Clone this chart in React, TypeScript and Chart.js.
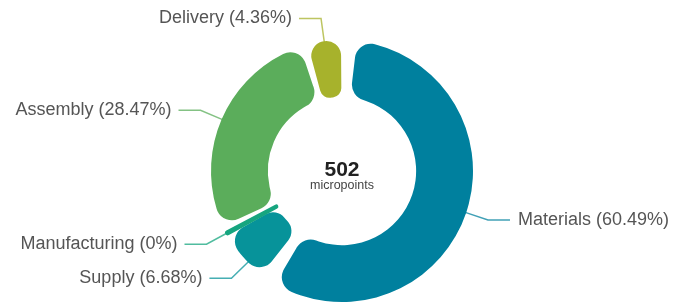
import React, { useEffect, useRef } from "react";
import { Chart, registerables } from "chart.js";

Chart.register(...registerables);

const categories = ["Materials", "Supply", "Manufacturing", "Assembly", "Delivery"];
const values = [60.49, 6.68, 0, 28.47, 4.36];
const colors = ["#00809e", "#07939a", "#16a57f", "#5bad5b", "#a7b22c"];
const centerValue = "502";
const centerUnit = "micropoints";

const FONT = "'Liberation Sans', Arial, sans-serif";
const SPACING = 12;

const labelPlugin = {
  id: "pieLabels",
  afterDraw(chart: any) {
    const ctx = chart.ctx;
    const meta = chart.getDatasetMeta(0);
    const total = values.reduce((a, b) => a + b, 0);
    const items: any[] = [];
    let cx = 0, cy = 0, R = 0;
    meta.data.forEach((arc: any, i: number) => {
      const p = arc.getProps(["x", "y", "startAngle", "endAngle", "outerRadius"], true);
      cx = p.x; cy = p.y; R = p.outerRadius + SPACING / 2;
      const mid = (p.startAngle + p.endAngle) / 2;
      const right = Math.cos(mid) >= 0;
      const rr = R + 23;
      items.push({
        i, mid, right, rr,
        x: cx + rr * Math.cos(mid),
        y: cy + rr * Math.sin(mid),
        pushed: false,
      });
    });
    // resolve vertical overlaps on each side
    const minGap = 34;
    [true, false].forEach((side) => {
      const list = items.filter((it) => it.right === side).sort((a, b) => a.y - b.y);
      for (let k = 1; k < list.length; k++) {
        if (list[k].y - list[k - 1].y < minGap) {
          list[k].y = list[k - 1].y + minGap;
          list[k].pushed = true;
        }
      }
    });
    ctx.save();
    ctx.font = `18px ${FONT}`;
    ctx.textBaseline = "middle";
    items.forEach((it) => {
      let bx = it.x;
      const by = it.y;
      if (it.pushed) {
        const dy = by - cy;
        const dxAbs = Math.sqrt(Math.max(it.rr * it.rr - dy * dy, 0));
        bx = it.right ? cx + dxAbs : cx - dxAbs;
      }
      const ang = Math.atan2(by - cy, bx - cx);
      const sx = cx + (R - 1) * Math.cos(ang);
      const sy = cy + (R - 1) * Math.sin(ang);
      const hx = it.right ? bx + 22 : bx - 22;
      ctx.strokeStyle = colors[it.i];
      ctx.globalAlpha = 0.75;
      ctx.lineWidth = 1.5;
      ctx.beginPath();
      ctx.moveTo(sx, sy);
      ctx.lineTo(bx, by);
      ctx.lineTo(hx, by);
      ctx.stroke();
      ctx.globalAlpha = 1;
      const pct = +((values[it.i] / total) * 100).toFixed(2);
      const text = `${categories[it.i]} (${pct}%)`;
      ctx.fillStyle = "#555555";
      ctx.textAlign = it.right ? "left" : "right";
      ctx.fillText(text, it.right ? hx + 8 : hx - 7, by);
    });
    // center text
    ctx.textAlign = "center";
    ctx.fillStyle = "#222222";
    ctx.font = `bold 21px ${FONT}`;
    ctx.fillText(centerValue, cx, cy - 1);
    ctx.fillStyle = "#444444";
    ctx.font = `12.5px ${FONT}`;
    ctx.fillText(centerUnit, cx, cy + 15);
    ctx.restore();
  },
};

export default function App() {
  const ref = useRef<HTMLCanvasElement | null>(null);
  useEffect(() => {
    if (!ref.current) return;
    const displayValues = values.map((v) => Math.max(v, 0.3));
    const chart = new Chart(ref.current, {
      type: "doughnut",
      data: {
        labels: categories,
        datasets: [
          {
            data: displayValues,
            backgroundColor: colors,
            borderColor: colors,
            borderWidth: values.map((v) => (v === 0 ? 3 : 0)),
            borderJoinStyle: "round",
            borderRadius: 16,
            spacing: SPACING,
          } as any,
        ],
      },
      options: {
        animation: false,
        responsive: true,
        maintainAspectRatio: false,
        radius: 125,
        cutout: "54.5%",
        layout: { padding: { left: 0, right: 3, top: 39, bottom: 0 } },
        plugins: { legend: { display: false }, tooltip: { enabled: false } },
      } as any,
      plugins: [labelPlugin],
    });
    return () => chart.destroy();
  }, []);
  return (
    <div style={{ position: "fixed", left: 0, top: 0, width: 687, height: 303, background: "#fff" }}>
      <canvas ref={ref} />
    </div>
  );
}
